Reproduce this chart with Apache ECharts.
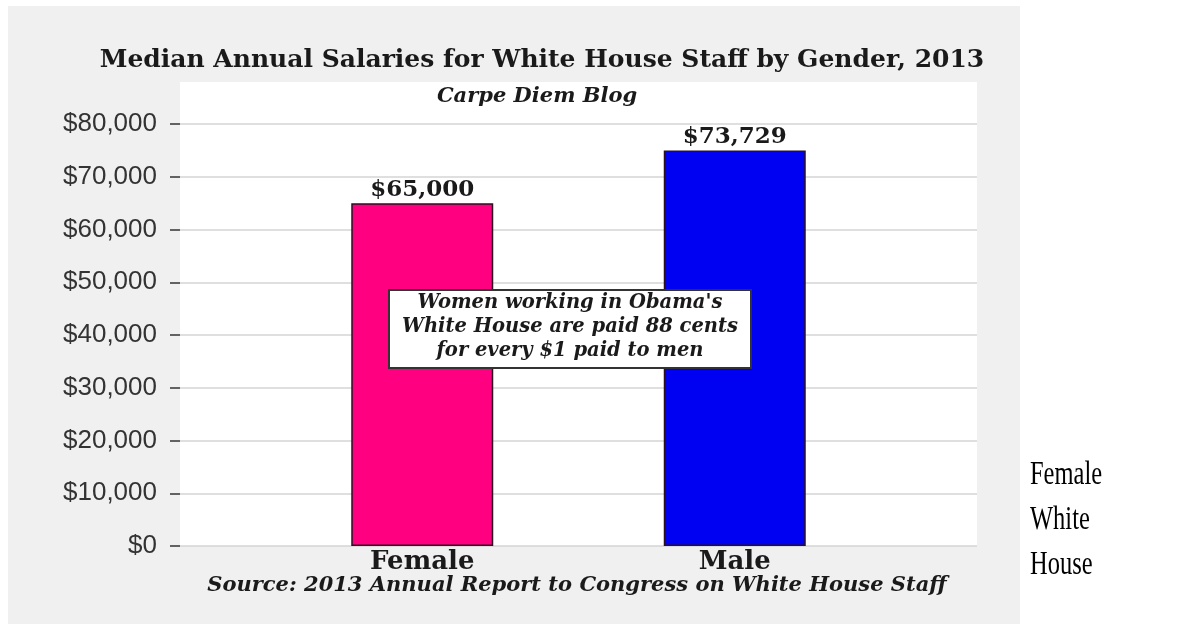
<!DOCTYPE html>
<html>
<head>
<meta charset="utf-8">
<script src="https://cdn.jsdelivr.net/npm/echarts@6/dist/echarts.min.js"></script>
<style>
html,body{margin:0;padding:0;background:#fff;}
#chart{width:1178px;height:632px;}
</style>
</head>
<body>
<div id="chart"></div>
<script>
// ---- data ----
const categories = ['Female', 'Male'];
const barValues = [65000, 75000];          // bar heights as drawn
const valueLabels = ['$65,000', '$73,729']; // printed labels
const barColors = ['#ff0080', '#0000f2'];
const yMin = 0, yMax = 80000, yStep = 10000;
const titleText = 'Median Annual Salaries for White House Staff by Gender, 2013';
const subtitleText = 'Carpe Diem Blog';
const sourceText = 'Source: 2013 Annual Report to Congress on White House Staff';
const noteLines = ["Women working in Obama's", 'White House are paid 88 cents', 'for every $1 paid to men'];
const sideWords = ['Female', 'White', 'House'];

const serif = '"DejaVu Serif", Georgia, serif';
const fmtMoney = v => '$' + v.toLocaleString('en-US');

const chart = echarts.init(document.getElementById('chart'), null, {renderer: 'canvas'});

const graphics = [
  {type: 'rect', z: -10, silent: true, shape: {x: 8, y: 6, width: 1012, height: 618}, style: {fill: '#f0f0f0'}},
  {type: 'rect', z: -9, silent: true, shape: {x: 180, y: 82, width: 797, height: 464}, style: {fill: '#ffffff'}},
  {type: 'text', x: 542, y: 60, style: {text: titleText, font: 'bold 25px ' + serif, fill: '#1a1a1a', textAlign: 'center', textVerticalAlign: 'middle'}},
  {type: 'text', x: 537, y: 97, style: {text: subtitleText, font: 'italic bold 21px ' + serif, fill: '#1a1a1a', textAlign: 'center', textVerticalAlign: 'middle'}},
  {type: 'text', x: 577, y: 586, style: {text: sourceText, font: 'italic bold 21px ' + serif, fill: '#1a1a1a', textAlign: 'center', textVerticalAlign: 'middle'}},
  {type: 'rect', z: 10, shape: {x: 389, y: 290, width: 362, height: 78}, style: {fill: '#ffffff', stroke: '#333333', lineWidth: 2}},
  {type: 'text', z: 11, x: 570, y: 327, style: {text: noteLines.join('\n'), font: 'italic bold 19.5px ' + serif, lineHeight: 24, fill: '#1a1a1a', textAlign: 'center', textVerticalAlign: 'middle'}}
];
sideWords.forEach((w, i) => {
  graphics.push({type: 'text', x: 1030, y: 475 + i * 45, scaleX: 0.72,
    style: {text: w, font: '34px "Liberation Serif", "Times New Roman", serif', fill: '#000', textAlign: 'left', textVerticalAlign: 'middle'}});
});

chart.setOption({
  backgroundColor: '#ffffff',
  animation: false,
  graphic: graphics,
  grid: [
    {left: 180, right: 201, top: 124, bottom: 86},
    {left: 266, right: 287, top: 124, bottom: 86}
  ],
  xAxis: [
    {type: 'category', gridIndex: 0, data: categories, show: false},
    {type: 'category', gridIndex: 1, data: categories,
     axisLine: {show: false}, axisTick: {show: false},
     axisLabel: {fontFamily: serif, fontWeight: 'bold', fontSize: 26, color: '#1a1a1a', margin: 3}}
  ],
  yAxis: [
    {type: 'value', gridIndex: 0, min: yMin, max: yMax, interval: yStep,
     axisLine: {show: false},
     axisTick: {show: true, length: 10, lineStyle: {color: '#333', width: 1.5}},
     axisLabel: {formatter: fmtMoney, fontFamily: '"Liberation Sans", Arial, sans-serif', fontSize: 26, color: '#333', margin: 23},
     splitLine: {show: true, lineStyle: {color: '#d4d4d4', width: 1.5}}},
    {type: 'value', gridIndex: 1, min: yMin, max: yMax, interval: yStep, show: false, splitLine: {show: false}}
  ],
  series: [{
    type: 'bar', xAxisIndex: 1, yAxisIndex: 1,
    barWidth: 142,
    data: barValues.map((v, i) => ({value: v, itemStyle: {color: barColors[i]}})),
    itemStyle: {borderColor: '#2a1020', borderWidth: 1.5},
    label: {show: true, position: 'top', distance: 2,
      formatter: p => valueLabels[p.dataIndex],
      fontFamily: serif, fontWeight: 'bold', fontSize: 23, color: '#1a1a1a'}
  }]
});
</script>
</body>
</html>
